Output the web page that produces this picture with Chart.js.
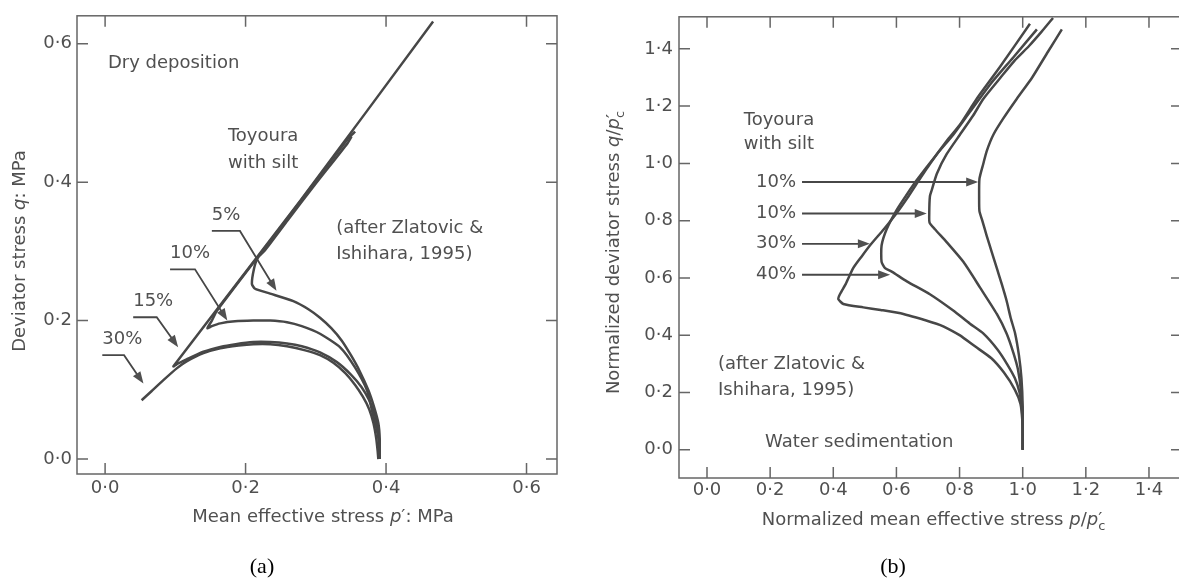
<!DOCTYPE html>
<html>
<head>
<meta charset="utf-8">
<title>Toyoura with silt</title>
<script src="https://cdn.jsdelivr.net/npm/chart.js@4.4.1/dist/chart.umd.min.js"></script>
<style>
    html, body { margin: 0; padding: 0; background: #fff; overflow: hidden; }
    body { width: 1179px; height: 585px; position: relative; }
    canvas { position: absolute; top: 0; }
    #graficoSeco { left: 0; }
    #graficoAgua { left: 590px; }
</style>
</head>
<body>
<canvas id="graficoSeco" width="590" height="585"></canvas>
<canvas id="graficoAgua" width="600" height="585"></canvas>
<script>
const FONTE = "DejaVu Sans";
const COR_TEXTO = "#505050";
const COR_LINHA = "#474747";

// (a) dry deposition: p' and q in MPa
const ticksSeco = [0, 0.2, 0.4, 0.6];
const rotulosSeco = ["5%", "10%", "15%", "30%"];

const seco5 = [
    [0.391, 0], [0.391, 0.03], [0.389, 0.052], [0.383, 0.075], [0.375, 0.099], [0.362, 0.128],
    [0.35, 0.15], [0.337, 0.171], [0.322, 0.189], [0.306, 0.204], [0.29, 0.216], [0.268, 0.228],
    [0.235, 0.239], [0.2135, 0.246], [0.209, 0.253], [0.212, 0.275], [0.217, 0.29], [0.228, 0.302],
    [0.26, 0.345], [0.3, 0.398], [0.345, 0.456], [0.351, 0.466]
];
const seco10 = [
    [0.391, 0], [0.39, 0.025], [0.386, 0.046], [0.38, 0.07], [0.373, 0.099], [0.356, 0.132],
    [0.335, 0.161], [0.306, 0.181], [0.28, 0.192], [0.259, 0.1976], [0.235, 0.2], [0.211, 0.2],
    [0.185, 0.199], [0.164, 0.196], [0.152, 0.192], [0.1457, 0.189], [0.152, 0.2], [0.159, 0.214],
    [0.25, 0.335], [0.346, 0.463], [0.356, 0.473]
];
const seco15 = [
    [0.39, 0], [0.39, 0.02], [0.388, 0.045], [0.384, 0.065], [0.376, 0.085], [0.365, 0.104],
    [0.35, 0.122], [0.33, 0.14], [0.306, 0.154], [0.28, 0.163], [0.259, 0.167], [0.235, 0.169],
    [0.211, 0.169], [0.186, 0.166], [0.164, 0.162], [0.14, 0.155], [0.116, 0.144], [0.104, 0.138],
    [0.0973, 0.134], [0.2776, 0.3727], [0.467, 0.632]
];
const seco30 = [
    [0.389, 0], [0.388, 0.012], [0.386, 0.03], [0.382, 0.052], [0.376, 0.072], [0.367, 0.09],
    [0.356, 0.107], [0.342, 0.124], [0.325, 0.139], [0.306, 0.15], [0.285, 0.157], [0.259, 0.163],
    [0.235, 0.166], [0.211, 0.166], [0.19, 0.164], [0.164, 0.16], [0.14, 0.153], [0.116, 0.141],
    [0.102, 0.131], [0.083, 0.114], [0.066, 0.098], [0.052, 0.085]
];

// leader lines: start, bend, arrow tip
const setasSeco = [
    [[0.152, 0.3295], [0.192, 0.3295], [0.244, 0.243]],
    [[0.0925, 0.274], [0.128, 0.274], [0.174, 0.2]],
    [[0.04, 0.2048], [0.0735, 0.2048], [0.104, 0.1616]],
    [[-0.004, 0.15], [0.027, 0.15], [0.0546, 0.109]]
];

// (b) water sedimentation: normalized by p'c
const ticksAgua = [0, 0.2, 0.4, 0.6, 0.8, 1.0, 1.2, 1.4];
const rotulosAgua = ["10%", "10%", "30%", "40%"];

const agua10a = [
    [1.0, 0], [1.0, 0.15], [0.996, 0.25], [0.988, 0.33], [0.976, 0.406], [0.962, 0.46],
    [0.949, 0.52], [0.934, 0.577], [0.918, 0.634], [0.902, 0.69], [0.886, 0.747], [0.872, 0.8],
    [0.863, 0.833], [0.862, 0.88], [0.863, 0.946], [0.875, 0.998], [0.886, 1.043], [0.907, 1.1],
    [0.9386, 1.157], [0.981, 1.225], [1.03, 1.3], [1.08, 1.39], [1.124, 1.468]
];
const agua10b = [
    [1.0, 0], [1.0, 0.1], [0.995, 0.2], [0.985, 0.28], [0.97, 0.34], [0.949, 0.406],
    [0.918, 0.474], [0.865, 0.566], [0.812, 0.656], [0.759, 0.725], [0.722, 0.77], [0.705, 0.793],
    [0.704, 0.827], [0.706, 0.884], [0.712, 0.907], [0.728, 0.964], [0.759, 1.032], [0.801, 1.1],
    [0.8436, 1.168], [0.875, 1.225], [0.93, 1.3], [0.975, 1.36], [1.02, 1.41], [1.06, 1.46],
    [1.096, 1.508]
];
const agua30 = [
    [1.0, 0], [1.0, 0.05], [0.999, 0.1], [0.993, 0.16], [0.975, 0.21], [0.94, 0.27],
    [0.9, 0.32], [0.85, 0.36], [0.8, 0.4], [0.75, 0.43], [0.727, 0.44], [0.622, 0.474],
    [0.55, 0.488], [0.495, 0.497], [0.432, 0.509], [0.416, 0.526], [0.421, 0.543], [0.44, 0.58],
    [0.463, 0.634], [0.49, 0.675], [0.516, 0.713], [0.56, 0.77], [0.601, 0.827], [0.635, 0.88],
    [0.664, 0.929], [0.706, 0.998], [0.759, 1.078], [0.801, 1.135], [0.854, 1.225], [0.93, 1.34],
    [1.023, 1.488]
];
const agua40 = [
    [1.0, 0], [1.0, 0.08], [0.997, 0.15], [0.99, 0.2], [0.975, 0.25], [0.95, 0.3],
    [0.92, 0.35], [0.875, 0.406], [0.833, 0.44], [0.78, 0.486], [0.706, 0.543], [0.633, 0.588],
    [0.585, 0.622], [0.564, 0.634], [0.553, 0.656], [0.553, 0.713], [0.569, 0.77], [0.601, 0.838],
    [0.632, 0.89], [0.664, 0.941], [0.728, 1.032], [0.78, 1.1], [0.833, 1.18], [0.9, 1.28],
    [0.97, 1.37], [1.045, 1.468]
];

// horizontal arrows: height, tip
const setasAguaY = [0.935, 0.825, 0.719, 0.611];
const setasAguaPonta = [0.859, 0.696, 0.516, 0.58];
const setasAguaInicio = 0.301;

function formatar(v) {
    return v.toFixed(1).replace(".", "\u00b7");
}

function fonte(tam, italico) {
    return (italico ? "italic " : "") + tam + "px '" + FONTE + "'";
}

function serie(pontos) {
    return {
        data: pontos.map(p => ({ x: p[0], y: p[1] })),
        showLine: true,
        fill: false,
        borderColor: COR_LINHA,
        borderWidth: 2.5,
        pointRadius: 0,
        tension: 0.2
    };
}

function eixo(ticks, min, max, tamanho, padding, vertical) {
    return {
        type: "linear",
        min: min,
        max: max,
        grid: { display: false, drawTicks: false },
        border: { display: false },
        ticks: {
            padding: padding,
            color: COR_TEXTO,
            font: { family: FONTE, size: 18 },
            callback: v => formatar(v)
        },
        afterBuildTicks: s => { s.ticks = ticks.map(v => ({ value: v })); },
        afterFit: s => {
            if (vertical) s.width = tamanho;
            else s.height = tamanho;
        }
    };
}

// box with inward ticks on all four sides
const moldura = {
    id: "moldura",
    beforeDatasetsDraw(chart) {
        const { ctx, chartArea: a, scales: { x, y } } = chart;
        const t = 11;
        ctx.save();
        ctx.strokeStyle = "#666";
        ctx.lineWidth = 1.5;
        ctx.strokeRect(a.left, a.top, a.right - a.left, a.bottom - a.top);
        ctx.beginPath();
        x.ticks.forEach(tk => {
            const px = x.getPixelForValue(tk.value);
            ctx.moveTo(px, a.bottom); ctx.lineTo(px, a.bottom - t);
            ctx.moveTo(px, a.top); ctx.lineTo(px, a.top + t);
        });
        y.ticks.forEach(tk => {
            const py = y.getPixelForValue(tk.value);
            ctx.moveTo(a.left, py); ctx.lineTo(a.left + t, py);
            ctx.moveTo(a.right, py); ctx.lineTo(a.right - t, py);
        });
        ctx.stroke();
        ctx.restore();
    }
};

function seta(ctx, pts) {
    const n = pts.length;
    const [px, py] = pts[n - 2];
    const [tx, ty] = pts[n - 1];
    const d = Math.hypot(tx - px, ty - py);
    const ux = (tx - px) / d, uy = (ty - py) / d;
    const comp = 12, meia = 4.5;
    ctx.beginPath();
    ctx.moveTo(pts[0][0], pts[0][1]);
    for (let i = 1; i < n - 1; i++) ctx.lineTo(pts[i][0], pts[i][1]);
    ctx.lineTo(tx - ux * comp * 0.6, ty - uy * comp * 0.6);
    ctx.stroke();
    ctx.beginPath();
    ctx.moveTo(tx, ty);
    ctx.lineTo(tx - ux * comp - uy * meia, ty - uy * comp + ux * meia);
    ctx.lineTo(tx - ux * comp + uy * meia, ty - uy * comp - ux * meia);
    ctx.closePath();
    ctx.fill();
}

// text with italic symbols and a subscript under the prime
function textoMisto(ctx, partes, x, y, alinhar) {
    let total = 0;
    partes.forEach(p => {
        ctx.font = fonte(18, p.it);
        p.w = ctx.measureText(p.t).width;
        if (p.sub) {
            ctx.font = fonte(13);
            p.w = Math.max(p.w, ctx.measureText(p.sub).width + 1);
        }
        total += p.w;
    });
    let cx = alinhar === "center" ? x - total / 2 : x;
    ctx.textAlign = "left";
    ctx.textBaseline = "middle";
    partes.forEach(p => {
        ctx.font = fonte(18, p.it);
        ctx.fillText(p.t, cx, y);
        if (p.sub) {
            ctx.font = fonte(13);
            ctx.fillText(p.sub, cx, y + 7);
        }
        cx += p.w;
    });
}

function texto(ctx, s, x, y, alinhar) {
    ctx.font = fonte(18);
    ctx.textAlign = alinhar || "left";
    ctx.textBaseline = "middle";
    ctx.fillText(s, x, y);
}

function notas(desenhar) {
    return {
        id: "notas",
        afterDraw(chart) {
            const { ctx, scales: { x, y } } = chart;
            const px = v => x.getPixelForValue(v);
            const py = v => y.getPixelForValue(v);
            ctx.save();
            ctx.fillStyle = COR_TEXTO;
            ctx.strokeStyle = COR_LINHA;
            ctx.lineWidth = 1.8;
            desenhar(ctx, px, py);
            ctx.restore();
        }
    };
}

function gerarSeco() {
    const ctx = document.getElementById("graficoSeco");
    new Chart(ctx, {
        type: "scatter",
        data: { datasets: [seco5, seco10, seco15, seco30].map(serie) },
        options: {
            responsive: false,
            animation: false,
            devicePixelRatio: 1,
            layout: { padding: { left: 0, top: 14, right: 33, bottom: 0 } },
            plugins: { legend: { display: false }, tooltip: { enabled: false } },
            scales: {
                x: eixo(ticksSeco, -0.04, 0.6434, 111, 4, false),
                y: eixo(ticksSeco, -0.0216, 0.6403, 77, 5, true)
            }
        },
        plugins: [moldura, notas((c, px, py) => {
            texto(c, "Dry deposition", px(0.004), py(0.571));
            texto(c, "Toyoura", px(0.225), py(0.466), "center");
            texto(c, "with silt", px(0.225), py(0.427), "center");
            texto(c, "(after Zlatovic &", px(0.329), py(0.334));
            texto(c, "Ishihara, 1995)", px(0.329), py(0.296));

            setasSeco.forEach((s, i) => {
                const pts = s.map(p => [px(p[0]), py(p[1])]);
                seta(c, pts);
                texto(c, rotulosSeco[i], pts[0][0], pts[0][1] - 16);
            });

            textoMisto(c, [{ t: "Mean effective stress " }, { t: "p", it: true }, { t: "\u2032: MPa" }], 323, 517, "center");
            c.save();
            c.translate(20, 251);
            c.rotate(-Math.PI / 2);
            textoMisto(c, [{ t: "Deviator stress " }, { t: "q", it: true }, { t: ": MPa" }], 0, 0, "center");
            c.restore();

            c.fillStyle = "#000";
            c.font = "22px 'Liberation Serif'";
            c.textAlign = "center";
            c.fillText("(a)", 262, 567);
        })]
    });
}

function gerarAgua() {
    const ctx = document.getElementById("graficoAgua");
    new Chart(ctx, {
        type: "scatter",
        data: { datasets: [agua10a, agua10b, agua30, agua40].map(serie) },
        options: {
            responsive: false,
            animation: false,
            devicePixelRatio: 1,
            layout: { padding: { left: 0, top: 6, right: 8, bottom: 0 } },
            plugins: { legend: { display: false }, tooltip: { enabled: false } },
            scales: {
                x: eixo(ticksAgua, -0.0887, 1.5046, 107, 2, false),
                y: eixo(ticksAgua, -0.099, 1.512, 89, 6, true)
            }
        },
        plugins: [moldura, notas((c, px, py) => {
            texto(c, "Toyoura", px(0.228), py(1.15), "center");
            texto(c, "with silt", px(0.228), py(1.065), "center");
            texto(c, "(after Zlatovic &", px(0.035), py(0.297));
            texto(c, "Ishihara, 1995)", px(0.035), py(0.208));
            texto(c, "Water sedimentation", px(0.184), py(0.027));

            setasAguaY.forEach((v, i) => {
                seta(c, [[px(setasAguaInicio), py(v)], [px(setasAguaPonta[i]), py(v)]]);
                texto(c, rotulosAgua[i], px(0.282), py(v), "right");
            });

            textoMisto(c, [{ t: "Normalized mean effective stress " }, { t: "p", it: true }, { t: "/" },
                { t: "p", it: true }, { t: "\u2032", sub: "c" }], 344, 520, "center");
            c.save();
            c.translate(24, 252);
            c.rotate(-Math.PI / 2);
            textoMisto(c, [{ t: "Normalized deviator stress " }, { t: "q", it: true }, { t: "/" },
                { t: "p", it: true }, { t: "\u2032", sub: "c" }], 0, 0, "center");
            c.restore();

            c.fillStyle = "#000";
            c.font = "22px 'Liberation Serif'";
            c.textAlign = "center";
            c.fillText("(b)", 303, 567);
        })]
    });
}

gerarSeco();
gerarAgua();
</script>
</body>
</html>
